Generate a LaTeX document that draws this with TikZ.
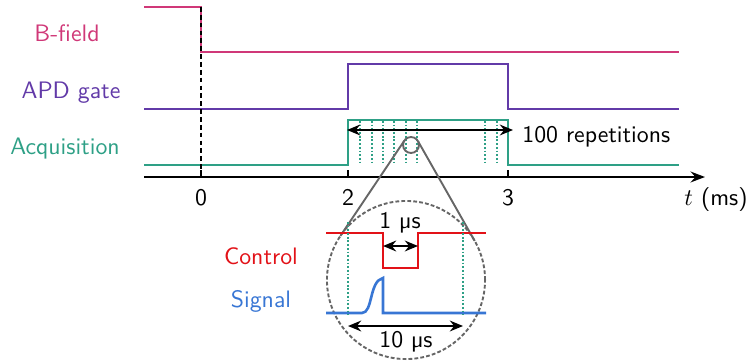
\documentclass[tikz,border=0pt]{standalone}
\usepackage{amsmath,amssymb}
\usepackage{tikz}
\usetikzlibrary{arrows.meta,calc}

\definecolor{bpink}{RGB}{208,56,120}
\definecolor{apdpurple}{RGB}{98,58,168}
\definecolor{acqteal}{RGB}{46,160,134}
\definecolor{ctrlred}{RGB}{226,18,24}
\definecolor{sigblue}{RGB}{56,118,212}

\begin{document}
\begin{tikzpicture}[x=0.42pt,y=-0.42pt,font=\sffamily,
  trace/.style={line width=1.1pt},
  dots/.style={acqteal,line width=0.75pt,dash pattern=on 0.75pt off 0.8pt},
  span/.style={line width=1pt,{Stealth[length=5.5pt,width=4.5pt]}-{Stealth[length=5.5pt,width=4.5pt]}},
  lbl/.style={anchor=base}]
\useasboundingbox (0,0) rectangle (750,362);

% signals
\draw[trace,bpink] (144,7) -- (201,7) -- (201,52) -- (679,52);
\draw[trace,apdpurple] (144,109) -- (348,109) -- (348,64) -- (508,64) -- (508,109) -- (679,109);
\draw[trace,acqteal] (144,165) -- (348,165) -- (348,120) -- (508,120) -- (508,165) -- (679,165);
\foreach \x in {360,372,383,394,406,417,485,497}
  \draw[dots] (\x,121) -- (\x,164);
\draw[line width=1pt,dash pattern=on 2pt off 1.3pt] (201,7) -- (201,177);

\node[lbl,bpink] (bfield) at (67,42) {B-field};
\node[lbl,apdpurple] (apd) at (71,98) {APD gate};
\node[lbl,acqteal] (acq) at (65,154) {Acquisition};

% time axis
\draw[line width=1pt,-{Stealth[length=6pt,width=4.5pt]}] (144,177) -- (705,177);
\foreach \x/\t in {201/0,348/2,508/3}{
  \draw[line width=0.8pt] (\x,170) -- (\x,177);
  \node[lbl] (tick\t) at (\x,205) {\t};
}
\node[lbl] (taxis) at (716,205) {$t$ (ms)};

\coordinate (repL) at (347,130);
\coordinate (repR) at (513,130);
\draw[span] (repL) -- (repR);
\node[lbl,anchor=base west] (reps) at (514,142) {100 repetitions};

% zoom
\node[draw=black!60,line width=0.8pt,circle,minimum size=6.7pt,inner sep=0pt,outer sep=0pt] (zoomsrc) at (411,145) {};
\node[draw=black!60,line width=0.8pt,dash pattern=on 1.6pt off 0.9pt,circle,minimum size=66.4pt,inner sep=0pt,outer sep=0pt] (zoomlens) at (406,280) {};
\coordinate (apex) at (411.6,129.8);
\draw[black!60,line width=0.8pt] (tangent cs:node=zoomsrc,point={(apex)},solution=1) -- (tangent cs:node=zoomlens,point={(apex)},solution=1);
\draw[black!60,line width=0.8pt] (tangent cs:node=zoomsrc,point={(apex)},solution=2) -- (tangent cs:node=zoomlens,point={(apex)},solution=2);

\draw[trace,ctrlred] (326,233) -- (383,233) -- (383,268) -- (418,268) -- (418,233) -- (486,233);
\draw[trace,sigblue] (326,313) -- (362,313) .. controls (373,313) and (369,281) .. (383,278) -- (383,313) -- (486,313);
\draw[dots] (348,222) -- (348,315);
\draw[dots] (463,222) -- (463,315);

\draw[span] (383,246) -- (418,246);
\node[lbl] (onemu) at (400,228) {1 µs};
\draw[span] (348,326) -- (463,326);
\node[lbl] (tenmu) at (406,347) {10 µs};

\node[lbl,ctrlred] (ctrl) at (261,264) {Control};
\node[lbl,sigblue] (sig) at (261,307) {Signal};

\end{tikzpicture}
\end{document}
